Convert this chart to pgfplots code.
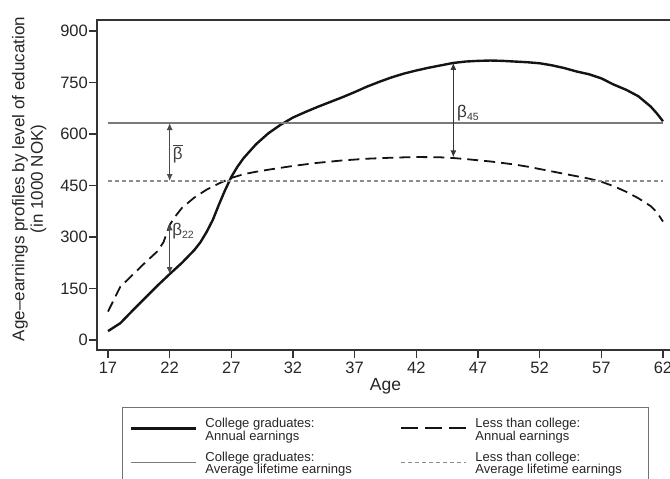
\documentclass[border=0pt]{standalone}
\usepackage{pgfplots}
\pgfplotsset{compat=1.18}
\usetikzlibrary{arrows.meta}
\usepackage{fontspec}
\setmainfont{Liberation Sans}
\definecolor{axgray}{HTML}{333333}
\definecolor{avgray}{HTML}{7A7A7A}
\definecolor{dotgray}{HTML}{8C8C8C}
\definecolor{arrgray}{HTML}{4A4A4A}
\begin{document}
\begin{tikzpicture}
\begin{axis}[
  at={(97pt,-350pt)}, anchor=south west,
  scale only axis, width=577pt, height=330pt,
  xmin=16.108, xmax=62.892, ymin=-29.1, ymax=932,
  xtick={17,22,...,62}, ytick={0,150,...,900},
  xtick pos=bottom, ytick pos=left,
  tick align=outside, major tick length=8pt,
  axis line style={draw=axgray, line width=1.2pt},
  tick style={draw=axgray, line width=1.2pt},
  /pgf/number format/assume math mode=true,
  ticklabel style={font=\fontsize{16.5}{18}\selectfont, text=black!85},
  xticklabel style={inner ysep=3.5pt},
  yticklabel style={inner xsep=1pt},
  xlabel={Age},
  xlabel style={at={(axis description cs:0.5,-0.0848)}, anchor=north, inner sep=0pt, font=\fontsize{17.5}{19}\selectfont, text=black!85},
  ylabel={Age--earnings profiles by level of education\\(in 1000 NOK)},
  ylabel style={at={(axis description cs:-0.1174,0.518)}, anchor=center, align=center, inner sep=0pt, font=\fontsize{17}{18.5}\selectfont, text=black!85},
  legend columns=2,
  legend cell align=left,
  legend image code/.code={\draw[#1] (0pt,-2pt) -- (65pt,-2pt);},
  legend style={at={(axis description cs:0.04333,-0.17273)}, anchor=north west,
    draw=black!55, line width=0.8pt, fill=white,
    inner xsep=7pt, inner ysep=10.5pt,
    font=\fontsize{13}{12.7}\selectfont, text=black!85,
    row sep=17pt, nodes={inner sep=0pt},
    /tikz/every odd column/.append style={column sep=8pt},
    /tikz/every even column/.append style={column sep=0pt}},
]
% College graduates: annual earnings
\addplot[forget plot, black!92, line width=2.4pt, line join=round] coordinates {
(17,26) (18,49) (19,86) (20,122) (21,158) (22,192) (23,225) (24,262) (24.5,285)
(25,315) (25.5,350) (26,395) (26.5,437) (27,475) (27.5,505) (28,530) (29,570)
(30,602) (31,627) (32,648) (33,664) (34,679) (35,693) (36,707) (37,722) (38,738)
(39,752) (40,765) (41,776) (42,785) (43,793) (44,800) (45,807) (46,811) (47,813)
(48,814) (49,813) (50,811) (51,809) (52,806) (53,800) (54,792) (55,782) (56,774)
(57,762) (58,744) (59,729) (60,710) (61,680) (61.5,660) (62,637)
};
% Less than college: annual earnings
\addplot[forget plot, black!92, line width=1.8pt, dash pattern=on 11pt off 6pt] coordinates {
(17,83) (18,155) (19,190) (20,225) (21,258) (21.5,285) (22,335) (22.5,362)
(23,385) (24,415) (25,438) (26,456) (27,472) (28,483) (29,490) (30,496) (32,507)
(34,516) (36,523) (38,528) (40,531) (42,533) (44,532) (45,530) (46,527) (48,520)
(50,511) (51,505) (52,498) (54,484) (56,470) (57,461) (58,448) (59,432) (60,413)
(61,390) (61.5,372) (62,345)
};
% averages
\addplot[forget plot, avgray, line width=1.4pt] coordinates {(17,632) (62,632)};
\addplot[forget plot, dotgray, line width=1.4pt, dash pattern=on 4pt off 3pt] coordinates {(17,463) (62,463)};
% arrows
\addplot[forget plot, arrgray, line width=1pt, {Latex[length=7pt,width=6pt]}-{Latex[length=7pt,width=6pt]}] coordinates {(22,192) (22,340)};
\addplot[forget plot, arrgray, line width=1pt, {Latex[length=7pt,width=6pt]}-{Latex[length=7pt,width=6pt]}] coordinates {(22,463) (22,632)};
\addplot[forget plot, axgray, line width=1pt, {Latex[length=7pt,width=6pt]}-{Latex[length=7pt,width=6pt]}] coordinates {(45,532) (45,807)};
\node[anchor=base west, inner sep=0pt, text=black!75, font=\fontsize{17}{18}\selectfont] at (axis cs:22.25,527) {\(\overline{\mbox{β}}\)};
\node[anchor=base west, inner sep=0pt, text=black!75, font=\fontsize{17}{18}\selectfont] at (axis cs:22.2,304) {β\raisebox{-3pt}{\fontsize{10.5}{12}\selectfont 22}};
\node[anchor=base west, inner sep=0pt, text=black!80, font=\fontsize{17}{18}\selectfont] at (axis cs:45.3,649) {β\raisebox{-3pt}{\fontsize{10.5}{12}\selectfont 45}};
% legend
\addlegendimage{black!92, line width=3pt}
\addlegendentry{\parbox[c]{195pt}{College graduates:\\Annual earnings}}
\addlegendimage{black!92, line width=2pt, dash pattern=on 17pt off 7pt}
\addlegendentry{\parbox[c]{166pt}{Less than college:\\Annual earnings}}
\addlegendimage{avgray, line width=1.4pt}
\addlegendentry{\parbox[c]{195pt}{College graduates:\\Average lifetime earnings}}
\addlegendimage{dotgray, line width=1.4pt, dash pattern=on 4pt off 3pt}
\addlegendentry{\parbox[c]{166pt}{Less than college:\\Average lifetime earnings}}
\end{axis}
\pgfresetboundingbox
\useasboundingbox (0,0) rectangle (670pt,-479pt);
\end{tikzpicture}
\end{document}
